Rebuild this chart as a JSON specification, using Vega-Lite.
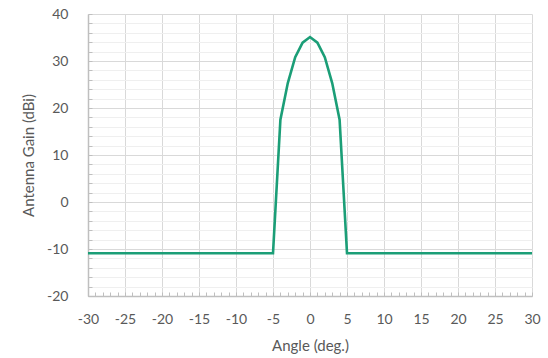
{
  "$schema": "https://vega.github.io/schema/vega-lite/v6.json",
  "autosize": "none",
  "width": 444,
  "height": 282,
  "padding": {"left": 88, "top": 14, "right": 16, "bottom": 62},
  "background": "white",
  "config": {
    "view": {"stroke": null},
    "font": "Lato",
    "axis": {"labelFont": "Lato", "titleFont": "Lato", "labelColor": "#595959", "titleColor": "#595959", "labelFontSize": 14, "titleFontSize": 15, "titleFontWeight": "normal", "labelFlush": false, "labelOverlap": false}
  },
  "data": {"values": [
    {"angle": -30, "gain": -10.9},
    {"angle": -5, "gain": -10.9},
    {"angle": -4, "gain": 17.5},
    {"angle": -3, "gain": 25.3},
    {"angle": -2, "gain": 30.8},
    {"angle": -1, "gain": 33.9},
    {"angle": 0, "gain": 35.1},
    {"angle": 1, "gain": 33.9},
    {"angle": 2, "gain": 30.8},
    {"angle": 3, "gain": 25.3},
    {"angle": 4, "gain": 17.5},
    {"angle": 5, "gain": -10.9},
    {"angle": 30, "gain": -10.9}
  ]},
  "resolve": {"axis": {"x": "independent", "y": "independent"}},
  "layer": [
    {
      "mark": {"type": "line", "opacity": 0},
      "encoding": {
        "x": {"field": "angle", "type": "quantitative", "scale": {"domain": [-30, 30], "nice": false},
          "axis": {"orient": "bottom", "values": [-30,-29,-28,-27,-26,-25,-24,-23,-22,-21,-20,-19,-18,-17,-16,-15,-14,-13,-12,-11,-10,-9,-8,-7,-6,-5,-4,-3,-2,-1,0,1,2,3,4,5,6,7,8,9,10,11,12,13,14,15,16,17,18,19,20,21,22,23,24,25,26,27,28,29,30], "labels": false, "title": null, "grid": false, "domain": false, "ticks": true, "tickSize": -4, "tickColor": "#bfbfbf", "tickWidth": 1}},
        "y": {"field": "gain", "type": "quantitative", "scale": {"domain": [-20, 40], "nice": false},
          "axis": {"orient": "left", "values": [-20,-18,-16,-14,-12,-10,-8,-6,-4,-2,0,2,4,6,8,10,12,14,16,18,20,22,24,26,28,30,32,34,36,38,40], "labels": false, "title": null, "grid": true, "gridColor": "#efefef", "gridWidth": 1, "domain": false, "ticks": true, "tickSize": -4, "tickColor": "#bfbfbf", "tickWidth": 1}}
      }
    },
    {
      "mark": {"type": "line", "color": "#1b9e77", "strokeWidth": 2.6},
      "encoding": {
        "x": {"field": "angle", "type": "quantitative", "scale": {"domain": [-30, 30], "nice": false},
          "axis": {"orient": "bottom", "values": [-30,-25,-20,-15,-10,-5,0,5,10,15,20,25,30], "labelExpr": "'' + datum.value", "grid": true, "gridColor": "#d9d9d9", "gridWidth": 1, "domain": true, "domainColor": "#bfbfbf", "domainWidth": 1.5, "ticks": false, "labelPadding": 16, "title": "Angle (deg.)", "titlePadding": 12}},
        "y": {"field": "gain", "type": "quantitative", "scale": {"domain": [-20, 40], "nice": false},
          "axis": {"orient": "left", "values": [-20,-10,0,10,20,30,40], "labelExpr": "'' + datum.value", "grid": true, "gridColor": "#d9d9d9", "gridWidth": 1, "domain": true, "domainColor": "#bfbfbf", "domainWidth": 1.5, "ticks": false, "labelPadding": 20, "title": "Antenna Gain (dBi)", "titlePadding": 10}}
      }
    }
  ]
}
